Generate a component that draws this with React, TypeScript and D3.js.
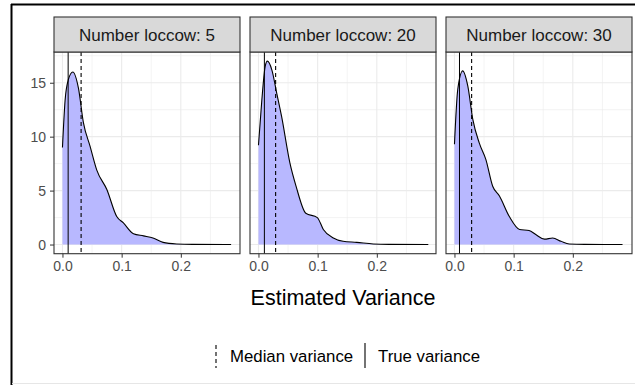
import React, { useEffect, useRef } from 'react';
import * as d3 from 'd3';

// facet labels
const panelLabels = ['Number loccow: 5', 'Number loccow: 20', 'Number loccow: 30'];

// density curves, one per facet
const densX5 = [0, 0.0045, 0.010, 0.0175, 0.027, 0.0354, 0.0467, 0.058, 0.075, 0.0917, 0.103, 0.12, 0.137, 0.153, 0.17, 0.193, 0.22, 0.285];
const densY5 = [9.0, 13.4, 15.3, 16.0, 14.5, 11.3, 9.1, 6.9, 5.1, 2.6, 2.0, 1.0, 0.8, 0.6, 0.2, 0.05, 0.01, 0];

const densX20 = [0, 0.0057, 0.0113, 0.015, 0.0226, 0.031, 0.039, 0.053, 0.0636, 0.08, 0.0995, 0.1096, 0.1265, 0.143, 0.166, 0.194, 0.22, 0.287];
const densY20 = [9.2, 13.4, 16.5, 17.0, 16.2, 14.0, 11.9, 7.6, 5.4, 2.9, 2.5, 1.4, 0.6, 0.3, 0.2, 0.05, 0.01, 0];

const densX30 = [0, 0.0056, 0.014, 0.0225, 0.031, 0.042, 0.053, 0.0646, 0.076, 0.0927, 0.11, 0.126, 0.138, 0.152, 0.166, 0.18, 0.194, 0.22, 0.284];
const densY30 = [9.3, 14.4, 16.1, 14.7, 11.6, 9.4, 7.9, 5.4, 4.5, 2.6, 1.4, 1.3, 0.9, 0.5, 0.6, 0.3, 0.05, 0.01, 0];

const trueVariance = [0.0096, 0.010, 0.0085];
const medianVariance = [0.0315, 0.029, 0.029];

const xTicks = [0, 0.1, 0.2];
const xMinor = [0.05, 0.15, 0.25];
const yTicks = [0, 5, 10, 15];
const yMinor = [2.5, 7.5, 12.5, 17.5];

const FONT = 'Liberation Sans, Arial, sans-serif';

const App = () => {
  const svgRef = useRef<SVGSVGElement>(null);

  useEffect(() => {
    const svg = d3.select(svgRef.current);
    svg.selectAll('*').remove();

    const curves = [
      densX5.map((x, i) => ({ x, y: densY5[i] })),
      densX20.map((x, i) => ({ x, y: densY20[i] })),
      densX30.map((x, i) => ({ x, y: densY30[i] })),
    ];

    // outer frame of the screenshot
    svg.append('rect').attr('x', 0).attr('y', 0).attr('width', 635).attr('height', 385).attr('fill', '#fff');
    svg.append('line').attr('x1', 11.5).attr('x2', 11.5).attr('y1', 4).attr('y2', 385).attr('stroke', '#000').attr('stroke-width', 2);
    svg.append('line').attr('x1', 11).attr('x2', 635).attr('y1', 4.5).attr('y2', 4.5).attr('stroke', '#000').attr('stroke-width', 2);
    svg.append('line').attr('x1', 12).attr('x2', 635).attr('y1', 383.5).attr('y2', 383.5).attr('stroke', '#e6e6e6').attr('stroke-width', 1);

    const panelLeft = [54, 250, 446];
    const panelW = 186;
    const top = 52, bottom = 253.7, stripTop = 17;

    const y = d3.scaleLinear().domain([-0.85, 17.85]).range([bottom, top]);

    panelLeft.forEach((left, p) => {
      const x = d3.scaleLinear().domain([-0.0143, 0.3]).range([left, left + panelW]);
      const g = svg.append('g');

      // grid
      g.selectAll('.vminor').data(xMinor).join('line')
        .attr('x1', d => x(d)).attr('x2', d => x(d)).attr('y1', top).attr('y2', bottom)
        .attr('stroke', '#ebebeb').attr('stroke-width', 0.6);
      g.selectAll('.hminor').data(yMinor).join('line')
        .attr('x1', left).attr('x2', left + panelW).attr('y1', d => y(d)).attr('y2', d => y(d))
        .attr('stroke', '#ebebeb').attr('stroke-width', 0.6);
      g.selectAll('.vmajor').data(xTicks).join('line')
        .attr('x1', d => x(d)).attr('x2', d => x(d)).attr('y1', top).attr('y2', bottom)
        .attr('stroke', '#ebebeb').attr('stroke-width', 1.1);
      g.selectAll('.hmajor').data(yTicks).join('line')
        .attr('x1', left).attr('x2', left + panelW).attr('y1', d => y(d)).attr('y2', d => y(d))
        .attr('stroke', '#ebebeb').attr('stroke-width', 1.1);

      // density fill + outline
      const data = curves[p];
      g.append('path').datum(data)
        .attr('fill', 'rgb(184,184,255)')
        .attr('d', d3.area<{ x: number; y: number }>().x(d => x(d.x)).y0(y(0)).y1(d => y(d.y)).curve(d3.curveMonotoneX));
      g.append('path').datum(data)
        .attr('fill', 'none').attr('stroke', '#000').attr('stroke-width', 1.1)
        .attr('d', d3.line<{ x: number; y: number }>().x(d => x(d.x)).y(d => y(d.y)).curve(d3.curveMonotoneX));

      // reference lines
      g.append('line').attr('x1', x(trueVariance[p])).attr('x2', x(trueVariance[p]))
        .attr('y1', top).attr('y2', bottom).attr('stroke', '#000').attr('stroke-width', 1);
      g.append('line').attr('x1', x(medianVariance[p])).attr('x2', x(medianVariance[p]))
        .attr('y1', top).attr('y2', bottom).attr('stroke', '#000').attr('stroke-width', 1.1)
        .attr('stroke-dasharray', '4,3');

      // panel border
      g.append('rect').attr('x', left).attr('y', top).attr('width', panelW).attr('height', bottom - top)
        .attr('fill', 'none').attr('stroke', '#333').attr('stroke-width', 1.1);

      // strip
      g.append('rect').attr('x', left).attr('y', stripTop).attr('width', panelW).attr('height', top - stripTop)
        .attr('fill', '#d9d9d9').attr('stroke', '#333').attr('stroke-width', 1.1);
      g.append('text').attr('x', left + panelW / 2).attr('y', (stripTop + top) / 2 + 6)
        .attr('text-anchor', 'middle').attr('font-family', FONT).attr('font-size', 17).attr('fill', '#1a1a1a')
        .text(panelLabels[p]);

      // x axis
      const xa = g.append('g').attr('transform', `translate(0,${bottom})`)
        .call(d3.axisBottom(x).tickValues(xTicks).tickFormat(d3.format('.1f')).tickSize(4).tickPadding(3));
      xa.select('.domain').remove();
      xa.selectAll('line').attr('stroke', '#333');
      xa.selectAll('text').attr('font-family', FONT).attr('font-size', 14).attr('fill', '#4d4d4d');

      // y axis on first panel only
      if (p === 0) {
        const ya = g.append('g').attr('transform', `translate(${left},0)`)
          .call(d3.axisLeft(y).tickValues(yTicks).tickSize(4).tickPadding(4));
        ya.select('.domain').remove();
        ya.selectAll('line').attr('stroke', '#333');
        ya.selectAll('text').attr('font-family', FONT).attr('font-size', 14).attr('fill', '#4d4d4d');
      }
    });

    // axis title
    svg.append('text').attr('x', 343).attr('y', 305).attr('text-anchor', 'middle')
      .attr('font-family', FONT).attr('font-size', 21.5).attr('fill', '#000').text('Estimated Variance');

    // legend
    const legY = 362;
    svg.append('line').attr('x1', 216).attr('x2', 216).attr('y1', 345).attr('y2', 368)
      .attr('stroke', '#000').attr('stroke-width', 1.1).attr('stroke-dasharray', '4,3');
    svg.append('text').attr('x', 230).attr('y', legY).attr('font-family', FONT).attr('font-size', 16.8)
      .attr('fill', '#000').text('Median variance');
    svg.append('line').attr('x1', 365).attr('x2', 365).attr('y1', 343).attr('y2', 368)
      .attr('stroke', '#000').attr('stroke-width', 1.1);
    svg.append('text').attr('x', 378).attr('y', legY).attr('font-family', FONT).attr('font-size', 16.8)
      .attr('fill', '#000').text('True variance');
  }, []);

  return (
    <svg ref={svgRef} width={635} height={385} style={{ position: 'absolute', left: 0, top: 0 }} />
  );
};

export default App;
